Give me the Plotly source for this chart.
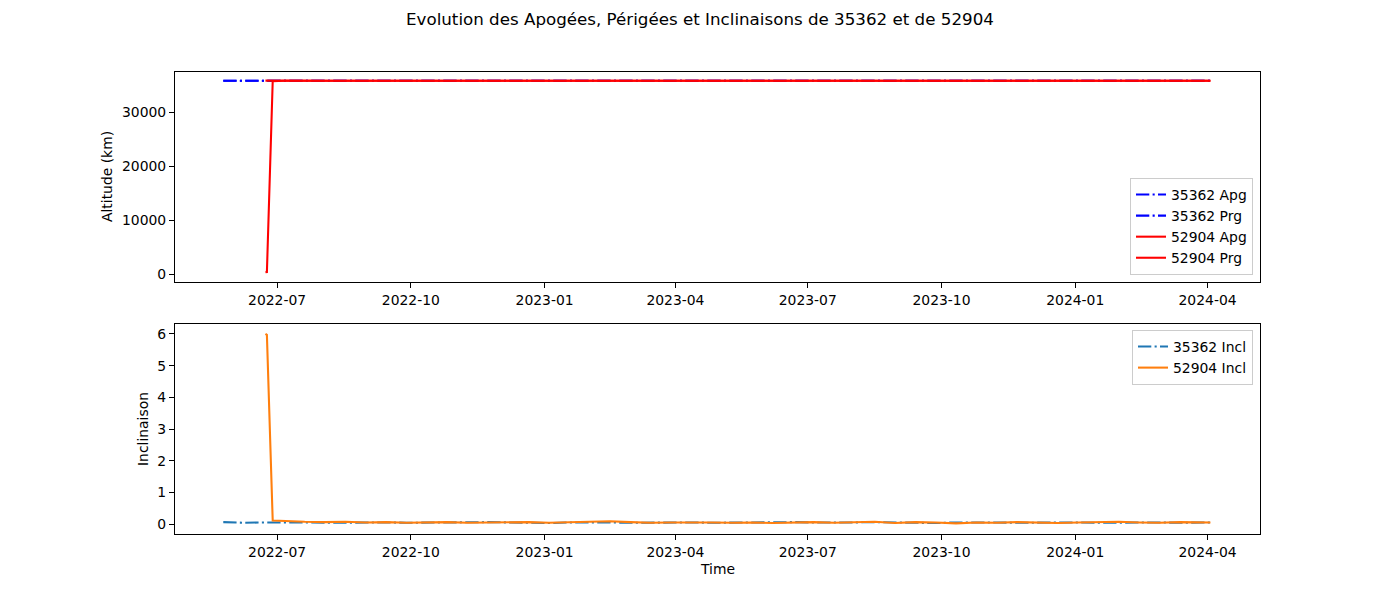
import plotly.graph_objects as go

# ---------------- data ----------------
dates_35362 = [
    "2022-05-25", "2022-06-08", "2022-06-22", "2022-07-06", "2022-07-20",
    "2022-08-03", "2022-08-17", "2022-08-31", "2022-09-14", "2022-09-28",
    "2022-10-12", "2022-10-26", "2022-11-09", "2022-11-23", "2022-12-07",
    "2022-12-21", "2023-01-04", "2023-01-18", "2023-02-01", "2023-02-15",
    "2023-03-01", "2023-03-15", "2023-03-29", "2023-04-12", "2023-04-26",
    "2023-05-10", "2023-05-24", "2023-06-07", "2023-06-21", "2023-07-05",
    "2023-07-19", "2023-08-02", "2023-08-16", "2023-08-30", "2023-09-13",
    "2023-09-27", "2023-10-11", "2023-10-25", "2023-11-08", "2023-11-22",
    "2023-12-06", "2023-12-20", "2024-01-03", "2024-01-17", "2024-01-31",
    "2024-02-14", "2024-02-28", "2024-03-13", "2024-03-27", "2024-04-03",
]
apg_35362 = [
    35802, 35801, 35799, 35800, 35803, 35801, 35798, 35800, 35802, 35801,
    35799, 35800, 35802, 35800, 35801, 35799, 35800, 35802, 35801, 35800,
    35798, 35800, 35801, 35803, 35800, 35799, 35801, 35800, 35802, 35801,
    35799, 35800, 35801, 35802, 35800, 35798, 35800, 35801, 35802, 35800,
    35799, 35801, 35800, 35802, 35801, 35800, 35799, 35801, 35800, 35801,
]
prg_35362 = [
    35771, 35772, 35774, 35773, 35770, 35772, 35775, 35773, 35771, 35772,
    35774, 35773, 35771, 35773, 35772, 35774, 35773, 35771, 35772, 35773,
    35775, 35773, 35772, 35770, 35773, 35774, 35772, 35773, 35771, 35772,
    35774, 35773, 35772, 35771, 35773, 35775, 35773, 35772, 35771, 35773,
    35774, 35772, 35773, 35771, 35772, 35773, 35774, 35772, 35773, 35772,
]
incl_35362 = [
    0.06, 0.04, 0.05, 0.06, 0.05, 0.04, 0.05, 0.06, 0.05, 0.04,
    0.05, 0.04, 0.05, 0.06, 0.05, 0.04, 0.03, 0.05, 0.06, 0.05,
    0.04, 0.05, 0.06, 0.05, 0.04, 0.05, 0.04, 0.05, 0.06, 0.05,
    0.04, 0.05, 0.06, 0.05, 0.04, 0.03, 0.05, 0.06, 0.05, 0.04,
    0.05, 0.06, 0.05, 0.04, 0.05, 0.06, 0.05, 0.04, 0.05, 0.05,
]

dates_52904 = [
    "2022-06-23", "2022-06-24", "2022-06-28",
    "2022-07-06", "2022-07-20",
    "2022-08-03", "2022-08-17", "2022-08-31", "2022-09-14", "2022-09-28",
    "2022-10-12", "2022-10-26", "2022-11-09", "2022-11-23", "2022-12-07",
    "2022-12-21", "2023-01-04", "2023-01-18", "2023-02-01", "2023-02-15",
    "2023-03-01", "2023-03-15", "2023-03-29", "2023-04-12", "2023-04-26",
    "2023-05-10", "2023-05-24", "2023-06-07", "2023-06-21", "2023-07-05",
    "2023-07-19", "2023-08-02", "2023-08-16", "2023-08-30", "2023-09-13",
    "2023-09-27", "2023-10-11", "2023-10-25", "2023-11-08", "2023-11-22",
    "2023-12-06", "2023-12-20", "2024-01-03", "2024-01-17", "2024-01-31",
    "2024-02-14", "2024-02-28", "2024-03-13", "2024-03-27", "2024-04-03",
]
apg_52904 = [
    35805, 35802, 35796,
    35792, 35790,
    35791, 35789, 35790, 35792, 35791, 35790, 35789, 35791, 35790, 35792,
    35791, 35790, 35789, 35791, 35790, 35792, 35790, 35791, 35789, 35790,
    35791, 35792, 35790, 35789, 35791, 35790, 35792, 35791, 35790, 35789,
    35791, 35790, 35792, 35791, 35790, 35789, 35791, 35790, 35792, 35791,
    35790, 35789, 35791, 35790, 35791,
]
prg_52904 = [
    310, 360, 35690,
    35778, 35781,
    35780, 35782, 35781, 35779, 35780, 35781, 35782, 35780, 35781, 35779,
    35780, 35781, 35782, 35780, 35781, 35779, 35781, 35780, 35782, 35781,
    35780, 35779, 35781, 35782, 35780, 35781, 35779, 35780, 35781, 35782,
    35780, 35781, 35779, 35780, 35781, 35782, 35780, 35781, 35779, 35780,
    35781, 35782, 35780, 35781, 35780,
]
incl_52904 = [
    6.00, 5.97, 0.11,
    0.09, 0.07,
    0.06, 0.07, 0.05, 0.06, 0.04, 0.05, 0.06, 0.04, 0.05, 0.05,
    0.06, 0.04, 0.05, 0.07, 0.09, 0.06, 0.04, 0.05, 0.06, 0.05,
    0.04, 0.05, 0.03, 0.05, 0.06, 0.04, 0.05, 0.07, 0.03, 0.06,
    0.05, 0.02, 0.05, 0.04, 0.06, 0.05, 0.03, 0.05, 0.06, 0.07,
    0.05, 0.04, 0.06, 0.05, 0.05,
]

# ---------------- styles ----------------
LW = 2.08
DASHDOT = "13.3px,3.3px,2.1px,3.3px"
FONT = "DejaVu Sans"
FS = 13.9
OX, OY = 8, 8            # page body margin
W, H = 1400 - OX, 600 - OY


def px(x):
    return (x - OX) / W


def py(y):
    return 1 - (y - OY) / H


fig = go.Figure()

fig.add_trace(go.Scatter(x=dates_35362, y=apg_35362, mode="lines", name="35362 Apg",
                         line=dict(color="#0000ff", width=LW, dash=DASHDOT),
                         xaxis="x", yaxis="y", legend="legend"))
fig.add_trace(go.Scatter(x=dates_35362, y=prg_35362, mode="lines", name="35362 Prg",
                         line=dict(color="#0000ff", width=LW, dash=DASHDOT),
                         xaxis="x", yaxis="y", legend="legend"))
fig.add_trace(go.Scatter(x=dates_52904, y=apg_52904, mode="lines", name="52904 Apg",
                         line=dict(color="#ff0000", width=LW),
                         xaxis="x", yaxis="y", legend="legend"))
fig.add_trace(go.Scatter(x=dates_52904, y=prg_52904, mode="lines", name="52904 Prg",
                         line=dict(color="#ff0000", width=LW),
                         xaxis="x", yaxis="y", legend="legend"))

fig.add_trace(go.Scatter(x=dates_35362, y=incl_35362, mode="lines", name="35362 Incl",
                         line=dict(color="#1f77b4", width=LW, dash=DASHDOT),
                         xaxis="x2", yaxis="y2", legend="legend2"))
fig.add_trace(go.Scatter(x=dates_52904, y=incl_52904, mode="lines", name="52904 Incl",
                         line=dict(color="#ff7f0e", width=LW),
                         xaxis="x2", yaxis="y2", legend="legend2"))

xrange = ["2022-04-21 19:00", "2024-05-07 02:00"]
axis_common = dict(showline=True, linecolor="black", linewidth=1.1, mirror=True,
                   ticks="outside", ticklen=5, tickwidth=1.1, tickcolor="black",
                   showgrid=False, zeroline=False,
                   tickfont=dict(family=FONT, size=FS, color="black"))

xdom = [px(175), px(1260)]
fig.update_layout(
    width=W, height=H,
    margin=dict(l=0, r=0, t=0, b=0),
    paper_bgcolor="white", plot_bgcolor="white",
    font=dict(family=FONT, size=FS, color="black"),
    xaxis=dict(domain=xdom, anchor="y", type="date", range=xrange,
               tick0="2022-01-01", dtick="M3", tickformat="%Y-%m", **axis_common),
    yaxis=dict(domain=[py(282), py(72)], anchor="x", range=[-1481, 37407],
               tickvals=[0, 10000, 20000, 30000], ticktext=["0", "10000", "20000", "30000"],
               **axis_common),
    xaxis2=dict(domain=xdom, anchor="y2", type="date", range=xrange,
                tick0="2022-01-01", dtick="M3", tickformat="%Y-%m", **axis_common),
    yaxis2=dict(domain=[py(534), py(324)], anchor="x2", range=[-0.315, 6.315],
                tickvals=[0, 1, 2, 3, 4, 5, 6], **axis_common),
    legend=dict(x=px(1253), y=py(275), xanchor="right", yanchor="bottom",
                bgcolor="rgba(255,255,255,0.8)", bordercolor="#cccccc", borderwidth=1,
                font=dict(family=FONT, size=FS, color="black"), tracegroupgap=0),
    legend2=dict(x=px(1253), y=py(330), xanchor="right", yanchor="top",
                 bgcolor="rgba(255,255,255,0.8)", bordercolor="#cccccc", borderwidth=1,
                 font=dict(family=FONT, size=FS, color="black"), tracegroupgap=0),
    showlegend=True,
)

fig.add_annotation(text="Evolution des Apogées, Périgées et Inclinaisons de 35362 et de 52904",
                   x=px(700), y=py(19), xref="paper", yref="paper", showarrow=False,
                   xanchor="center", yanchor="middle",
                   font=dict(family=FONT, size=16.7, color="black"))
fig.add_annotation(text="Altitude (km)", x=px(107), y=py(177), xref="paper", yref="paper",
                   showarrow=False, textangle=-90, xanchor="center", yanchor="middle",
                   font=dict(family=FONT, size=FS, color="black"))
fig.add_annotation(text="Inclinaison", x=px(143), y=py(429), xref="paper", yref="paper",
                   showarrow=False, textangle=-90, xanchor="center", yanchor="middle",
                   font=dict(family=FONT, size=FS, color="black"))
fig.add_annotation(text="Time", x=px(717), y=py(569), xref="paper", yref="paper",
                   showarrow=False, xanchor="center", yanchor="middle",
                   font=dict(family=FONT, size=FS, color="black"))

fig.write_html("out.html")
